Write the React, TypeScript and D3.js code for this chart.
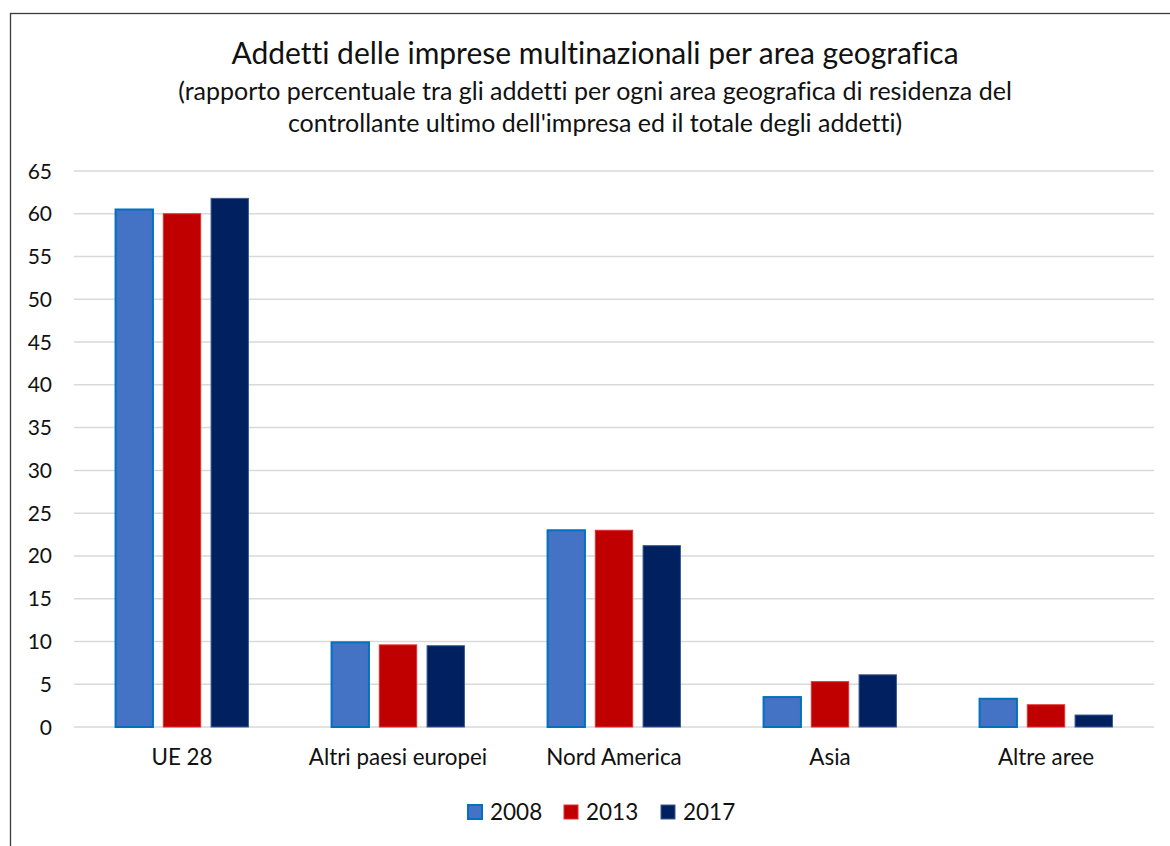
import React from "react";
import * as d3 from "d3";

const categories = ["UE 28", "Altri paesi europei", "Nord America", "Asia", "Altre aree"];
const years = ["2008", "2013", "2017"];
const values2008 = [60.5, 9.9, 23.0, 3.5, 3.3];
const values2013 = [60.0, 9.6, 23.0, 5.3, 2.6];
const values2017 = [61.8, 9.5, 21.2, 6.1, 1.4];
const yTicks = [0, 5, 10, 15, 20, 25, 30, 35, 40, 45, 50, 55, 60, 65];
const titleText = "Addetti delle imprese multinazionali per area geografica";
const subtitleLines = [
  "(rapporto percentuale tra gli addetti per ogni area geografica di residenza del",
  "controllante ultimo dell'impresa ed il totale degli addetti)",
];

const seriesValues = [values2008, values2013, values2017];
const fills = ["#4472C4", "#C00000", "#002060"];
const strokes = ["#0070C0", "#E03030", "#3A5A90"];

const W = 1170;
const H = 846;
const FONT = "Lato, 'Liberation Sans', sans-serif";

export default function App() {
  const left = 74;
  const right = 1154;
  const top = 171;
  const bottom = 727;

  const y = d3.scaleLinear().domain([0, 65]).range([bottom, top]);
  const x0 = d3
    .scaleBand<string>()
    .domain(categories)
    .range([left, right])
    .paddingInner(0.378)
    .paddingOuter(0.189);
  const x1 = d3
    .scaleBand<string>()
    .domain(years)
    .range([0, x0.bandwidth()])
    .paddingInner(0.186)
    .paddingOuter(0);

  const legendX = [467, 563, 660];

  return (
    <svg
      width={W}
      height={H}
      style={{ position: "absolute", left: 0, top: 0, background: "#fff", fontVariantLigatures: "none" }}
      fontFamily={FONT}
    >
      <rect x={0} y={0} width={W} height={H} fill="#fff" />
      <rect x={10.5} y={13.5} width={W + 20} height={H + 20} fill="none" stroke="#3a3a3a" strokeWidth={1.3} />

      <text x={595} y={64} textAnchor="middle" fontSize={30} fill="#111">
        {titleText}
      </text>
      {subtitleLines.map((l, i) => (
        <text key={i} x={595} y={100 + i * 32} textAnchor="middle" fontSize={25} fill="#111">
          {l}
        </text>
      ))}

      {yTicks.map((t) => (
        <g key={t}>
          <line x1={left} x2={right} y1={y(t)} y2={y(t)} stroke="#d9d9d9" strokeWidth={1.5} />
          <text x={52} y={y(t)} dy="0.36em" textAnchor="end" fontSize={21} fill="#111">
            {t}
          </text>
        </g>
      ))}

      {categories.map((c, ci) => (
        <g key={c} transform={`translate(${x0(c)},0)`}>
          {years.map((yr, si) => {
            const v = seriesValues[si][ci];
            return (
              <rect
                key={yr}
                x={x1(yr)! + 0.75}
                y={y(v)}
                width={x1.bandwidth() - 1.5}
                height={bottom - y(v)}
                fill={fills[si]}
                stroke={strokes[si]}
                strokeWidth={si === 0 ? 2 : 1}
              />
            );
          })}
          <text x={x0.bandwidth() / 2} y={765} textAnchor="middle" fontSize={22.4} fill="#111">
            {c}
          </text>
        </g>
      ))}

      {years.map((yr, i) => (
        <g key={yr}>
          <rect x={legendX[i] + 1} y={805} width={14} height={14} fill={fills[i]} stroke={strokes[i]} strokeWidth={i === 0 ? 2 : 1} />
          <text x={legendX[i] + 23} y={820} fontSize={22.5} fill="#111">
            {yr}
          </text>
        </g>
      ))}
    </svg>
  );
}
